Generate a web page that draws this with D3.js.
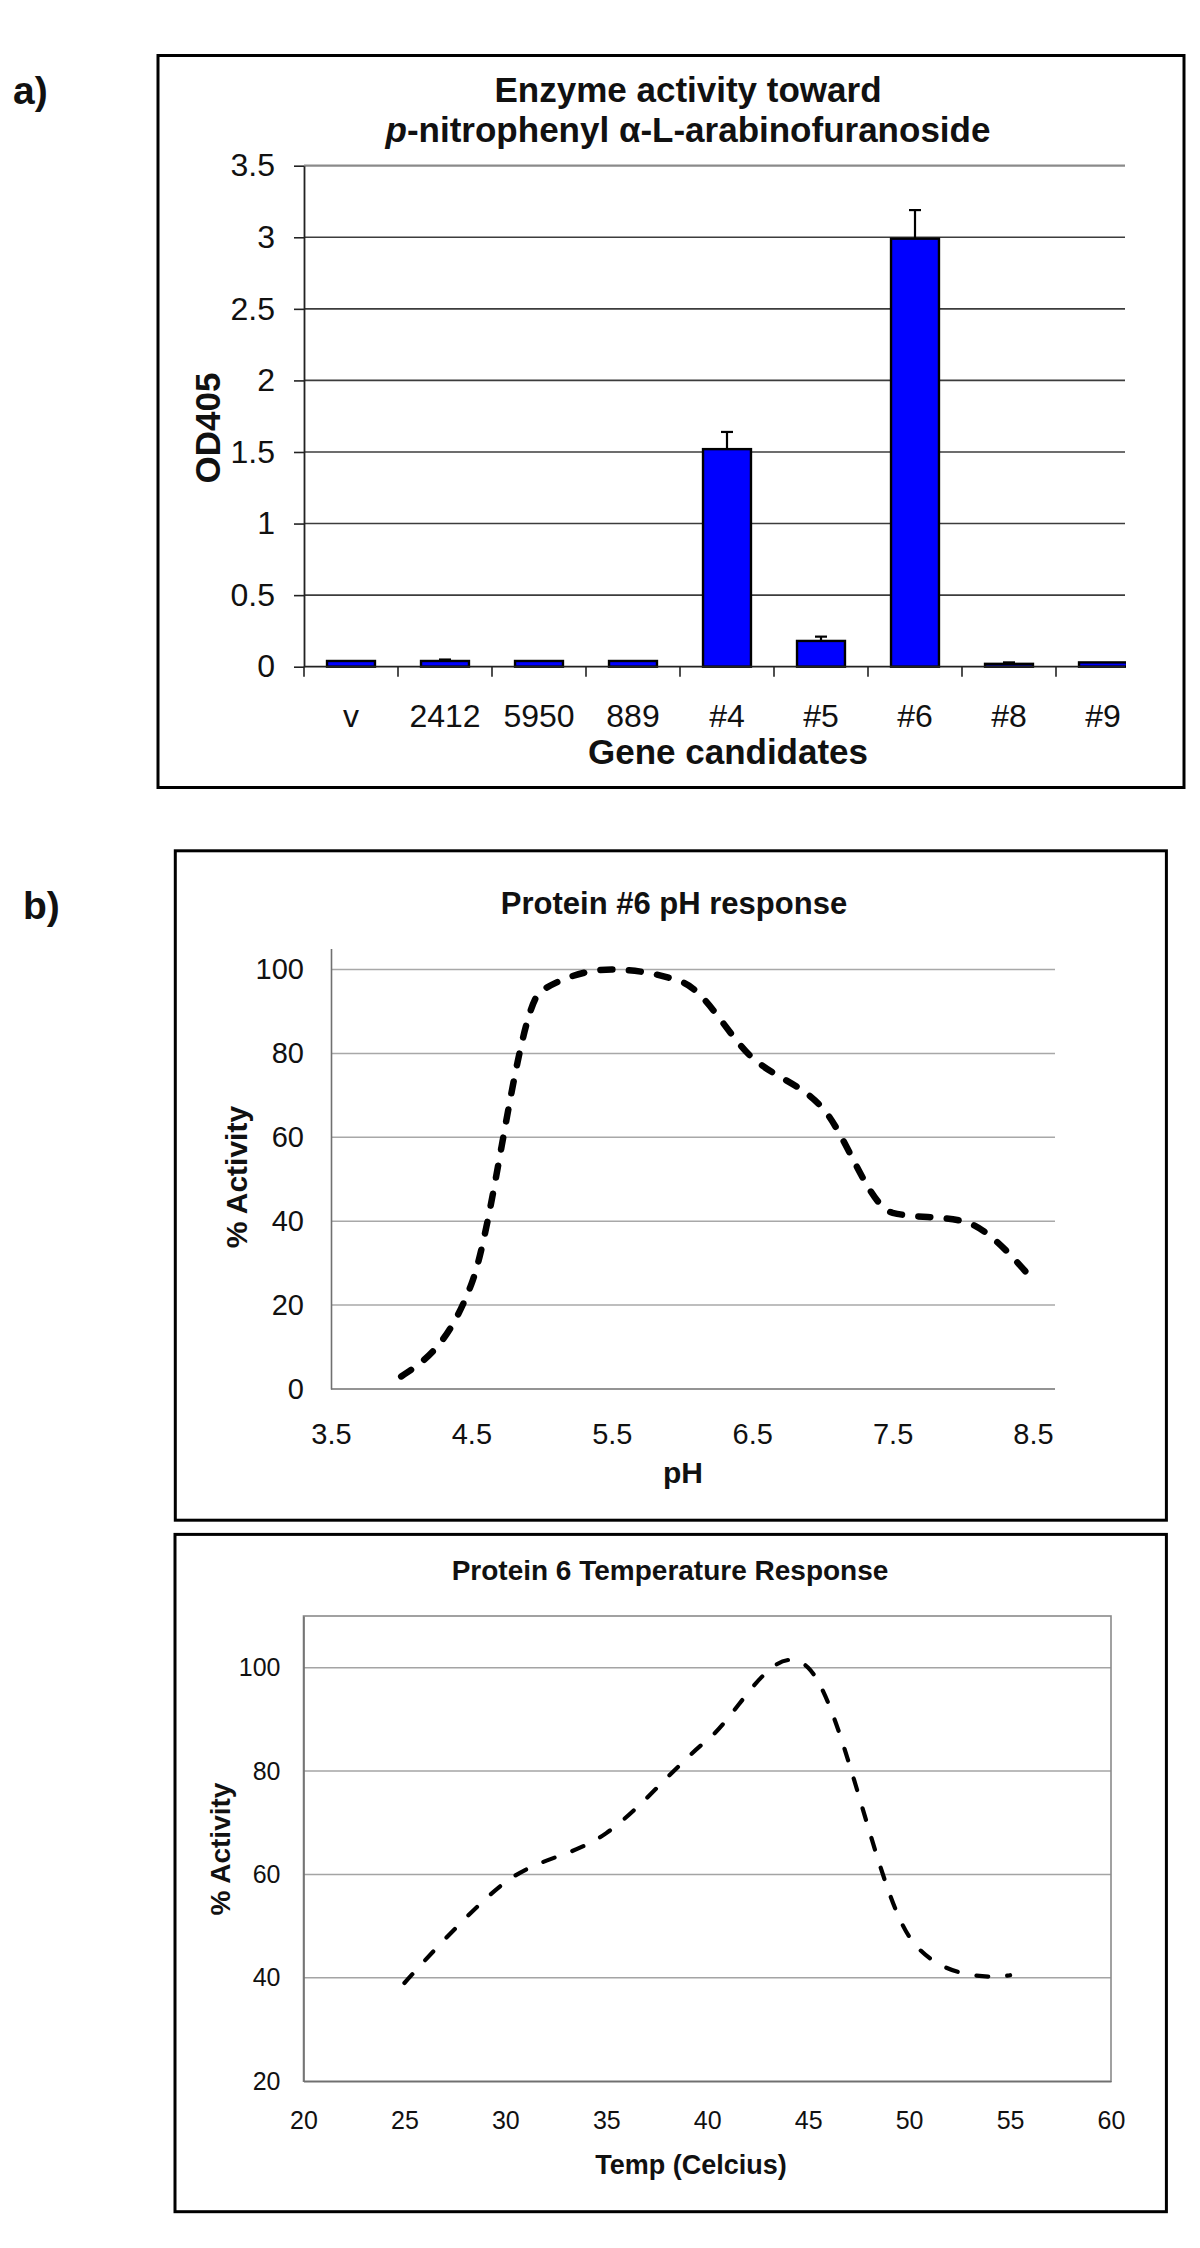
<!DOCTYPE html>
<html>
<head>
<meta charset="utf-8">
<script src="https://cdn.jsdelivr.net/npm/d3@7"></script>
<style>
  html, body { margin: 0; padding: 0; background: #fff; }
  svg { display: block; }
  text { font-family: "Liberation Sans", Arial, Helvetica, sans-serif; fill: #111; }
</style>
</head>
<body>
<svg id="fig" width="1200" height="2248"></svg>
<script>
// ---------- DATA ----------
const categories = ["v", "2412", "5950", "889", "#4", "#5", "#6", "#8", "#9"];
const od405 = [0.04, 0.04, 0.04, 0.04, 1.52, 0.18, 2.99, 0.02, 0.03];
const od405Err = [0, 0.01, 0, 0, 0.12, 0.03, 0.2, 0.01, 0];
const odTicks = [0, 0.5, 1, 1.5, 2, 2.5, 3, 3.5];

const pHValues = [4, 4.5, 5, 5.5, 6, 6.5, 7, 7.5, 8, 8.5];
const pHActivity = [3, 25, 95, 100, 97, 79, 67, 42, 40, 26];
const pHXTicks = [3.5, 4.5, 5.5, 6.5, 7.5, 8.5];
const pHYTicks = [0, 20, 40, 60, 80, 100];

const temps = [25, 30, 35, 40, 45, 50, 55];
const tempActivity = [39, 58.5, 68, 86, 100, 48, 40.5];
const tempXTicks = [20, 25, 30, 35, 40, 45, 50, 55, 60];
const tempYTicks = [20, 40, 60, 80, 100];

// ---------- SETUP ----------
const svg = d3.select("#fig");
svg.append("rect").attr("width", 1200).attr("height", 2248).attr("fill", "#fff");
const FONT = '"Liberation Sans", Arial, Helvetica, sans-serif';

function label(x, y, str, size, opts = {}) {
  const t = svg.append("text")
    .attr("x", x).attr("y", y)
    .attr("font-size", size)
    .attr("font-weight", opts.bold ? "bold" : "normal")
    .attr("text-anchor", opts.anchor || "middle")
    .text(str);
  if (opts.rotate) t.attr("transform", `rotate(-90,${x},${y})`);
  return t;
}
function box(x0, y0, x1, y1) {
  svg.append("rect").attr("x", x0).attr("y", y0)
    .attr("width", x1 - x0).attr("height", y1 - y0)
    .attr("fill", "none").attr("stroke", "#000").attr("stroke-width", 3);
}

// ---------- PANEL A ----------
label(13, 104, "a)", 39, { bold: true, anchor: "start" });
box(158, 55.5, 1184, 787.5);

svg.append("text").attr("x", 688).attr("y", 101.5).attr("font-size", 35)
  .attr("font-weight", "bold").attr("text-anchor", "middle").text("Enzyme activity toward");
const tA2 = svg.append("text").attr("x", 688).attr("y", 141.5).attr("font-size", 35)
  .attr("font-weight", "bold").attr("text-anchor", "middle");
tA2.append("tspan").attr("font-style", "italic").text("p");
tA2.append("tspan").text("-nitrophenyl α-L-arabinofuranoside");

const aLeft = 304, aRight = 1125, aBandEnd = 1150;
const yA = d3.scaleLinear().domain([0, 3.5]).range([666.7, 165.7]);
const xA = d3.scaleBand().domain(categories).range([aLeft, aBandEnd]).padding(0);
const step = xA.step();
const barW = step * 0.51;

// gridlines
svg.append("g").selectAll("line").data(odTicks.filter(d => d > 0)).join("line")
  .attr("x1", aLeft).attr("x2", aRight)
  .attr("y1", d => yA(d)).attr("y2", d => yA(d))
  .attr("stroke", d => d === 3.5 ? "#8a8a8a" : "#3c3c3c")
  .attr("stroke-width", d => d === 3.5 ? 2.2 : 1.6);

// y axis
const gyA = svg.append("g").attr("transform", `translate(${aLeft},0)`)
  .call(d3.axisLeft(yA).tickValues(odTicks).tickSize(10).tickSizeOuter(0).tickPadding(19)
    .tickFormat(d => String(d)));
gyA.select(".domain").attr("stroke", "#222").attr("stroke-width", 1.8);
gyA.selectAll(".tick line").attr("stroke", "#222").attr("stroke-width", 1.6);
gyA.selectAll("text").attr("font-size", 32).attr("font-family", FONT).attr("fill", "#111");

// bars (clipped at plot edge)
svg.append("clipPath").attr("id", "clipA").append("rect")
  .attr("x", aLeft).attr("y", 100).attr("width", aRight - aLeft + 1).attr("height", 600);
const gBars = svg.append("g").attr("clip-path", "url(#clipA)");
gBars.selectAll("rect").data(categories).join("rect")
  .attr("x", (c) => xA(c) + (step - barW) / 2)
  .attr("width", barW)
  .attr("y", (c, i) => yA(od405[i]))
  .attr("height", (c, i) => yA(0) - yA(od405[i]))
  .attr("fill", "#0000ff").attr("stroke", "#000").attr("stroke-width", 2.4);

// error bars
const errIdx = categories.map((c, i) => i).filter(i => od405Err[i] > 0);
const gErr = svg.append("g").attr("clip-path", "url(#clipA)");
gErr.selectAll("line.v").data(errIdx).join("line").attr("class", "v")
  .attr("x1", i => xA(categories[i]) + step / 2).attr("x2", i => xA(categories[i]) + step / 2)
  .attr("y1", i => yA(od405[i])).attr("y2", i => yA(od405[i] + od405Err[i]))
  .attr("stroke", "#000").attr("stroke-width", 2.2);
gErr.selectAll("line.c").data(errIdx).join("line").attr("class", "c")
  .attr("x1", i => xA(categories[i]) + step / 2 - 6).attr("x2", i => xA(categories[i]) + step / 2 + 6)
  .attr("y1", i => yA(od405[i] + od405Err[i])).attr("y2", i => yA(od405[i] + od405Err[i]))
  .attr("stroke", "#000").attr("stroke-width", 2.2);

// x axis line + boundary ticks
svg.append("line").attr("x1", aLeft).attr("x2", aRight).attr("y1", yA(0)).attr("y2", yA(0))
  .attr("stroke", "#222").attr("stroke-width", 1.8);
svg.append("g").selectAll("line").data(categories).join("line")
  .attr("x1", c => xA(c)).attr("x2", c => xA(c))
  .attr("y1", yA(0)).attr("y2", yA(0) + 10)
  .attr("stroke", "#222").attr("stroke-width", 1.6);
const gxA = svg.append("g").attr("transform", `translate(0,${yA(0)})`)
  .call(d3.axisBottom(xA).tickSize(0).tickPadding(37.4));
gxA.select(".domain").remove();
gxA.selectAll("text").attr("font-size", 32).attr("font-family", FONT).attr("fill", "#111");

label(728, 763.5, "Gene candidates", 35, { bold: true });
label(220, 428, "OD405", 35, { bold: true, rotate: true });

// ---------- PANEL B (pH) ----------
label(23, 919, "b)", 39, { bold: true, anchor: "start" });
box(175.3, 850.8, 1166.4, 1520.2);
label(674, 913.6, "Protein #6 pH response", 31, { bold: true });

const xP = d3.scaleLinear().domain([3.5, 8.5]).range([331, 1033]);
const yP = d3.scaleLinear().domain([0, 105]).range([1389, 948.5]);
const pRight = 1055;

svg.append("g").selectAll("line").data(pHYTicks.filter(d => d > 0)).join("line")
  .attr("x1", xP(3.5)).attr("x2", pRight)
  .attr("y1", d => yP(d)).attr("y2", d => yP(d))
  .attr("stroke", "#a8a8a8").attr("stroke-width", 1.5);

const gyP = svg.append("g").attr("transform", `translate(${xP(3.5)},0)`)
  .call(d3.axisLeft(yP).tickValues(pHYTicks).tickSize(0).tickSizeOuter(0).tickPadding(27));
gyP.select(".domain").attr("stroke", "#707070").attr("stroke-width", 1.6);
gyP.selectAll("text").attr("font-size", 29).attr("font-family", FONT).attr("fill", "#111");

svg.append("line").attr("x1", xP(3.5)).attr("x2", pRight).attr("y1", yP(0)).attr("y2", yP(0))
  .attr("stroke", "#707070").attr("stroke-width", 1.6);
const gxP = svg.append("g").attr("transform", `translate(0,${yP(0)})`)
  .call(d3.axisBottom(xP).tickValues(pHXTicks).tickSize(0).tickPadding(34.8)
    .tickFormat(d3.format(".1f")));
gxP.select(".domain").remove();
gxP.selectAll("text").attr("font-size", 29).attr("font-family", FONT).attr("fill", "#111");

const pHLine = d3.line().x((d, i) => xP(pHValues[i])).y(d => yP(d))
  .curve(d3.curveMonotoneX);
svg.append("path").attr("d", pHLine(pHActivity))
  .attr("fill", "none").attr("stroke", "#000").attr("stroke-width", 6.5)
  .attr("stroke-linecap", "round").attr("stroke-dasharray", "12,16.5");

label(683, 1483, "pH", 30, { bold: true });
label(247, 1177, "% Activity", 30, { bold: true, rotate: true });

// ---------- PANEL C (Temperature) ----------
box(175, 1534.4, 1166.4, 2211.7);
label(670, 1580.3, "Protein 6 Temperature Response", 28, { bold: true });

const xT = d3.scaleLinear().domain([20, 60]).range([303.5, 1111]);
const yT = d3.scaleLinear().domain([20, 110]).range([2081.2, 1616]);

svg.append("g").selectAll("line").data(tempYTicks.filter(d => d > 20)).join("line")
  .attr("x1", xT(20)).attr("x2", xT(60))
  .attr("y1", d => yT(d)).attr("y2", d => yT(d))
  .attr("stroke", "#a4a4a4").attr("stroke-width", 1.5);
svg.append("rect").attr("x", xT(20)).attr("y", yT(110))
  .attr("width", xT(60) - xT(20)).attr("height", yT(20) - yT(110))
  .attr("fill", "none").attr("stroke", "#8a8a8a").attr("stroke-width", 1.6);

const gyT = svg.append("g").attr("transform", `translate(${xT(20)},0)`)
  .call(d3.axisLeft(yT).tickValues(tempYTicks).tickSize(0).tickSizeOuter(0).tickPadding(23));
gyT.select(".domain").attr("stroke", "#707070").attr("stroke-width", 1.6);
gyT.selectAll("text").attr("font-size", 25).attr("font-family", FONT).attr("fill", "#111");

const gxT = svg.append("g").attr("transform", `translate(0,${yT(20)})`)
  .call(d3.axisBottom(xT).tickValues(tempXTicks).tickSize(0).tickPadding(30));
gxT.select(".domain").attr("stroke", "#707070").attr("stroke-width", 1.6);
gxT.selectAll("text").attr("font-size", 25).attr("font-family", FONT).attr("fill", "#111");

const tLine = d3.line().x((d, i) => xT(temps[i])).y(d => yT(d))
  .curve(d3.curveCardinal.tension(0));
svg.append("path").attr("d", tLine(tempActivity))
  .attr("fill", "none").attr("stroke", "#000").attr("stroke-width", 4.2)
  .attr("stroke-linecap", "round").attr("stroke-dasharray", "12,19");

label(691, 2174, "Temp (Celcius)", 27, { bold: true });
label(229.6, 1849, "% Activity", 28, { bold: true, rotate: true });
</script>
</body>
</html>
